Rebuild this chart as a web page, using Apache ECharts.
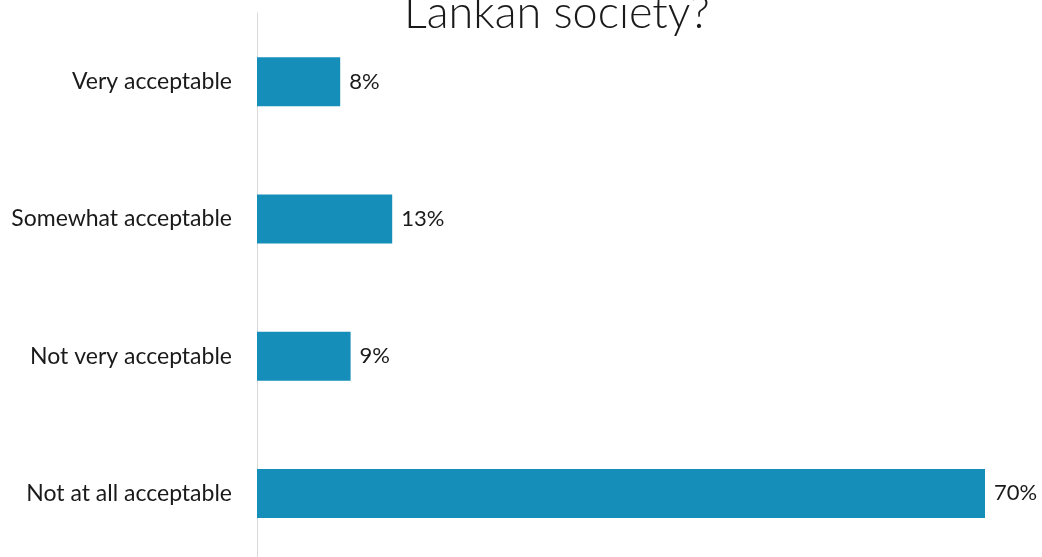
<!DOCTYPE html>
<html><head><meta charset="utf-8">
<script src="https://cdn.jsdelivr.net/npm/echarts@6/dist/echarts.min.js"></script>
<style>html,body{margin:0;padding:0;background:#fff;overflow:hidden}#c{width:1042px;height:562px}</style>
</head><body><div id="c"></div>
<script>
const categories = ["Very acceptable", "Somewhat acceptable", "Not very acceptable", "Not at all acceptable"];
const values = [8, 13, 9, 70];
const titleText = "Lankan society?";

const chart = echarts.init(document.getElementById('c'), null, {renderer: 'canvas'});
chart.setOption({
  animation: false,
  title: {
    text: titleText, left: 399, top: -14,
    textStyle: {fontFamily: 'Lato', fontSize: 45, fontWeight: 300, color: '#1a1a1a'}
  },
  grid: {left: 257, right: 5, top: 13, bottom: 0, containLabel: false},
  xAxis: {type: 'value', min: 0, max: 75, show: false},
  yAxis: {
    type: 'category', data: categories, inverse: true,
    axisLine: {show: true, lineStyle: {color: '#d9d9d9', width: 1}},
    axisTick: {show: false},
    axisLabel: {margin: 25, fontFamily: 'Lato', fontSize: 23, color: '#1a1a1a'}
  },
  series: [{
    type: 'bar', data: values, barWidth: 49,
    itemStyle: {color: '#168eba'},
    label: {show: true, position: 'right', distance: 9, formatter: '{c}%',
      fontFamily: 'Lato', fontSize: 22, color: '#1a1a1a'}
  }]
});
</script></body></html>
